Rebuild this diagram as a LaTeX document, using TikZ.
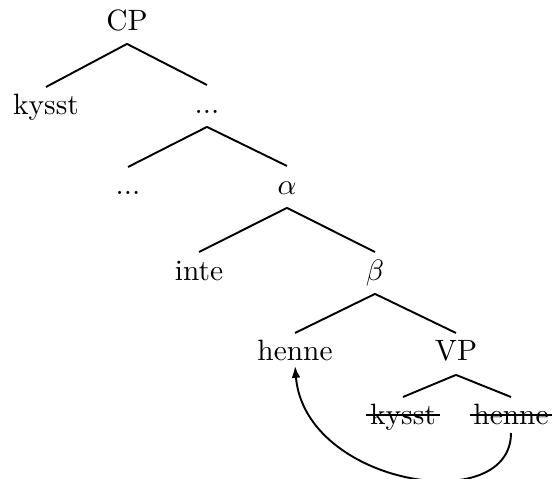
\documentclass[tikz,border=0pt]{standalone}
\usetikzlibrary{arrows.meta}

\begin{document}
\begin{tikzpicture}[x=0.34pt, y=-0.34pt, line width=0.65pt,
        cat/.style={anchor=base, inner sep=1pt, text height=8.2pt, text depth=3.4pt}]
    \useasboundingbox (0,0) rectangle (552,479);
    % nodes sit on their baselines
    \node[cat] (cp) at (127,30) {CP};
    \node[cat] (v) at (46,115) {kysst};
    \node[cat] (x1) at (207,113) {...};
    \node[cat] (x2) at (128,195) {...};
    \node[cat] (a) at (287,194) {$\alpha$};
    \node[cat] (neg) at (199,280) {inte};
    \node[cat] (b) at (375,280) {$\beta$};
    \node[cat] (h) at (295,361) {henne};
    \node[cat] (vp) at (456,361) {VP};
    \node[cat] (ks) at (403,425) {kysst};
    \node[cat] (hs) at (511,425) {henne};
    \foreach \p/\c in {cp/v, cp/x1, x1/x2, x1/a, a/neg, a/b, b/h, b/vp, vp/ks, vp/hs}
    {
        \draw (\p.south) -- (\c.north);
    }
    % copies are struck through
    \foreach \n in {ks, hs}
    {
        \draw ([yshift=3.4pt]\n.base west) -- ([yshift=3.4pt]\n.base east);
    }
    %\draw[->] (hs.south) to[out=-90,in=-90] (h.south);
    \draw[-{Latex[length=4pt,width=3pt]}] ([yshift=2pt]hs.south) .. controls +(0,85) and +(10,119) .. ([yshift=3pt]h.south);
\end{tikzpicture}
\end{document}
